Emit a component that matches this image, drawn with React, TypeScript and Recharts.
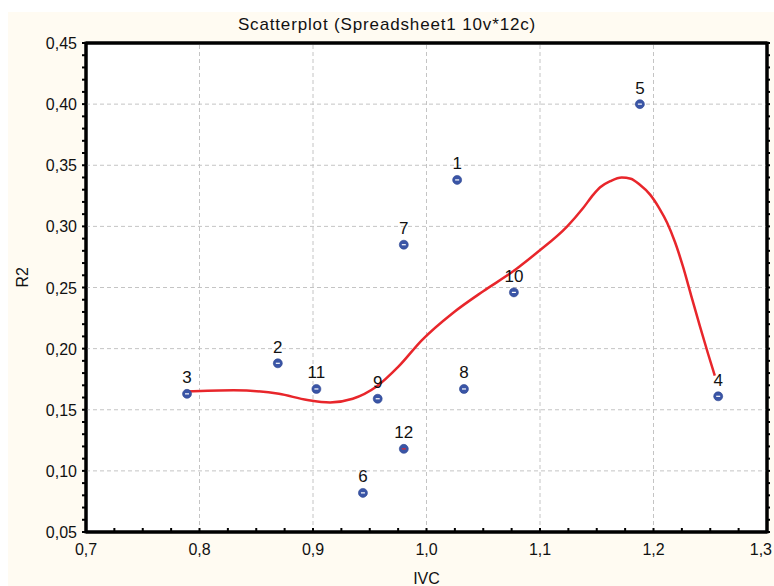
import React from "react";
import {
  ComposedChart,
  Scatter,
  Line,
  XAxis,
  YAxis,
  ReferenceLine,
  ReferenceArea,
  LabelList,
} from "recharts";

const pointIds = ["1", "2", "3", "4", "5", "6", "7", "8", "9", "10", "11", "12"];
const ivcValues = [1.027, 0.869, 0.789, 1.257, 1.188, 0.944, 0.980, 1.033, 0.957, 1.077, 0.903, 0.980];
const r2Values = [0.338, 0.188, 0.163, 0.161, 0.400, 0.082, 0.285, 0.167, 0.159, 0.246, 0.167, 0.118];

const curveX = [0.788, 0.83, 0.87, 0.895, 0.915, 0.935, 0.956, 0.975, 0.996, 1.023, 1.05, 1.076, 1.098, 1.124, 1.138, 1.147, 1.153, 1.162, 1.172, 1.18, 1.188, 1.197, 1.205, 1.212, 1.219, 1.226, 1.233, 1.241, 1.248, 1.254];
const curveY = [0.165, 0.166, 0.163, 0.158, 0.156, 0.159, 0.169, 0.185, 0.207, 0.229, 0.247, 0.263, 0.279, 0.3, 0.315, 0.326, 0.332, 0.337, 0.34, 0.339, 0.334, 0.326, 0.315, 0.303, 0.287, 0.267, 0.244, 0.218, 0.196, 0.178];

const xMajor = [0.7, 0.8, 0.9, 1.0, 1.1, 1.2, 1.3];
const yMajor = [0.05, 0.1, 0.15, 0.2, 0.25, 0.3, 0.35, 0.4, 0.45];
const xMinor = Array.from({ length: 25 }, (_, i) => +(0.7 + i * 0.025).toFixed(3));
const yMinor = Array.from({ length: 41 }, (_, i) => +(0.05 + i * 0.01).toFixed(2));

const points = pointIds.map((id, i) => ({ id, x: ivcValues[i], y: r2Values[i] }));
const curve = curveX.map((x, i) => ({ x, y: curveY[i] }));

const FONT = "'Liberation Sans', Arial, sans-serif";
const isMajor = (v: number, step: number, base: number) =>
  Math.abs((v - base) / step - Math.round((v - base) / step)) < 1e-6;
const fmt = (v: number, d: number) => v.toFixed(d).replace(".", ",");

const BottomTick = (props: any) => {
  const { x, y, payload } = props;
  const v = payload.value;
  const major = isMajor(v, 0.1, 0.7);
  const last = Math.abs(v - 1.3) < 1e-6;
  return (
    <g>
      <line x1={x} x2={x} y1={y - 4} y2={y} stroke="#000" strokeWidth={2} />
      {major && (
        <text
          x={last ? x + 5 : x}
          y={y + 23}
          textAnchor={last ? "end" : "middle"}
          fontSize={16}
          fontFamily={FONT}
          fill="#111"
        >
          {fmt(v, 1)}
        </text>
      )}
    </g>
  );
};

const TopTick = (props: any) => {
  const { x, y } = props;
  return <line x1={x} x2={x} y1={y} y2={y + 4} stroke="#000" strokeWidth={2} />;
};

const LeftTick = (props: any) => {
  const { x, y, payload } = props;
  const v = payload.value;
  const major = isMajor(v, 0.05, 0.05);
  return (
    <g>
      <line x1={x - 4} x2={x} y1={y} y2={y} stroke="#000" strokeWidth={2} />
      {major && (
        <text x={x - 9} y={y + 6} textAnchor="end" fontSize={16} fontFamily={FONT} fill="#111">
          {fmt(v, 2)}
        </text>
      )}
    </g>
  );
};

const RightTick = (props: any) => {
  const { x, y } = props;
  return <line x1={x - 1} x2={x + 3} y1={y} y2={y} stroke="#000" strokeWidth={2} />;
};

const PointShape = (props: any) => {
  const { cx, cy, payload } = props;
  const dash = payload && payload.id === "12" ? "#e8262b" : "#ffffff";
  return (
    <g>
      <circle cx={cx} cy={cy} r={4.5} fill="#3a55a6" stroke="#2c4591" strokeWidth={0.6} />
      <line x1={cx - 2} x2={cx + 2} y1={cy} y2={cy} stroke={dash} strokeWidth={1.2} />
    </g>
  );
};

export default function App() {
  return (
    <div
      style={{
        position: "fixed",
        top: 12,
        left: 8,
        width: 766,
        height: 574,
        background: "#fffbf2",
        overflow: "visible",
      }}
    >
      <div
        style={{
          position: "absolute",
          top: 3,
          left: -4,
          width: 766,
          textAlign: "center",
          fontFamily: FONT,
          fontSize: 17,
          letterSpacing: 0.85,
          color: "#111",
          whiteSpace: "nowrap",
        }}
      >
        Scatterplot (Spreadsheet1 10v*12c)
      </div>
      <ComposedChart
        width={766}
        height={574}
        margin={{ top: 30, right: 6, left: 0, bottom: 0 }}
        style={{ position: "absolute", top: 0, left: 0, overflow: "visible" }}
      >
        <ReferenceArea x1={0.7} x2={1.3} y1={0.05} y2={0.45} fill="#ffffff" fillOpacity={1} stroke="none" />
        {xMajor.slice(1, -1).map((v) => (
          <ReferenceLine key={"gx" + v} x={v} stroke="#c4c4c4" strokeDasharray="4 3" />
        ))}
        {yMajor.slice(1, -1).map((v) => (
          <ReferenceLine key={"gy" + v} y={v} stroke="#c4c4c4" strokeDasharray="4 3" />
        ))}
        <XAxis
          dataKey="x"
          type="number"
          domain={[0.7, 1.3]}
          ticks={xMinor}
          allowDataOverflow
          interval={0}
          tickSize={0}
          tickMargin={0}
          tick={<BottomTick />}
          axisLine={{ stroke: "#000", strokeWidth: 3 }}
          height={54}
          label={{ value: "IVC", position: "insideBottom", offset: 2, fontSize: 16, fontFamily: FONT, fill: "#111" }}
        />
        <XAxis
          xAxisId="top"
          orientation="top"
          type="number"
          domain={[0.7, 1.3]}
          ticks={xMinor}
          allowDataOverflow
          interval={0}
          tickSize={0}
          tickMargin={0}
          tick={<TopTick />}
          axisLine={{ stroke: "#000", strokeWidth: 3 }}
          height={1}
        />
        <YAxis
          dataKey="y"
          type="number"
          domain={[0.05, 0.45]}
          ticks={yMinor}
          allowDataOverflow
          interval={0}
          tickSize={0}
          tickMargin={0}
          tick={<LeftTick />}
          axisLine={{ stroke: "#000", strokeWidth: 3 }}
          width={78}
          label={{ value: "R2", angle: -90, position: "insideLeft", offset: 14, fontSize: 16, fontFamily: FONT, fill: "#111" }}
        />
        <YAxis
          yAxisId="right"
          orientation="right"
          type="number"
          domain={[0.05, 0.45]}
          ticks={yMinor}
          allowDataOverflow
          interval={0}
          tickSize={0}
          tickMargin={0}
          tick={<RightTick />}
          axisLine={{ stroke: "#000", strokeWidth: 3 }}
          width={1}
        />
        <Line
          data={curve}
          dataKey="y"
          type="monotone"
          stroke="#e8262b"
          strokeWidth={2.5}
          dot={false}
          activeDot={false}
          isAnimationActive={false}
        />
        <Scatter data={points} dataKey="y" shape={<PointShape />} isAnimationActive={false}>
          <LabelList dataKey="id" position="top" offset={6} fontSize={17} fontFamily={FONT} fill="#111" />
        </Scatter>
        <ReferenceArea x1={0.7} x2={1.3} y1={0.05} y2={0.45} fill="none" stroke="#000" strokeWidth={3} />
      </ComposedChart>
    </div>
  );
}
